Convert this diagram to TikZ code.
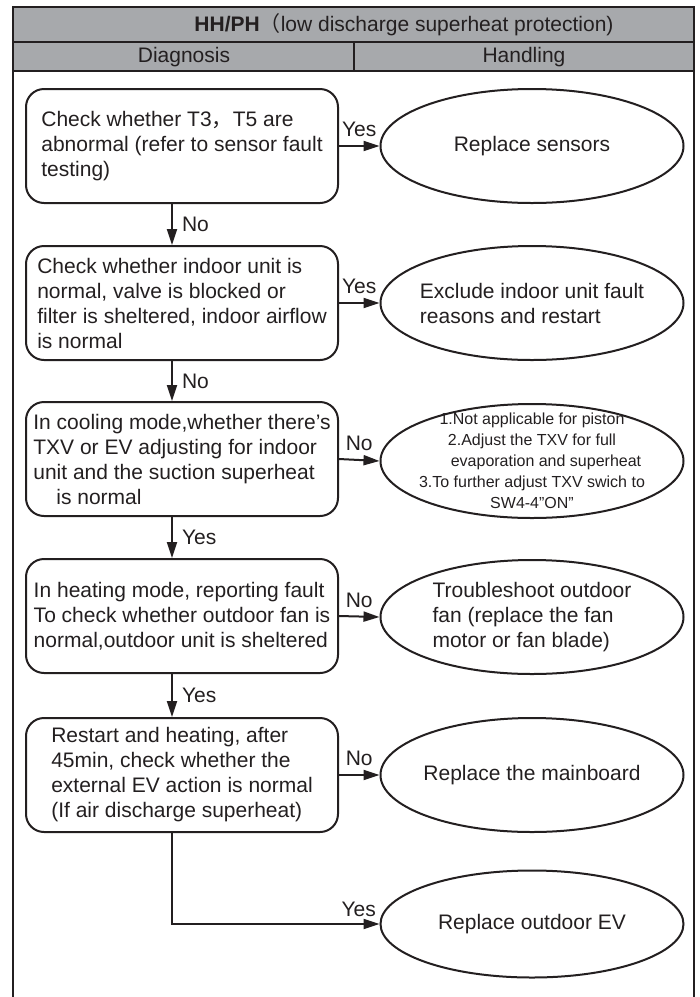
\documentclass[tikz,border=0pt]{standalone}
\usepackage{fontspec}
\setmainfont{Liberation Sans}
\newfontfamily\cjk{Noto Sans CJK SC}
\usepackage{tikz}
\usetikzlibrary{shapes.geometric, arrows.meta, positioning, calc}
\definecolor{hdrgray}{HTML}{A7A9AC}
\definecolor{ink}{HTML}{231F20}

\begin{document}
\begin{tikzpicture}[x=1pt, y=-1pt,
    check/.style={draw=ink, line width=2pt, rounded corners=18pt, minimum width=312pt, minimum height=114pt, align=left, inner sep=0pt, font=\fontsize{21}{25}\selectfont, text=ink},
    handle/.style={draw=ink, ellipse, line width=2pt, minimum width=303pt, minimum height=114pt, inner xsep=-10pt, inner ysep=-16pt, align=left, font=\fontsize{21}{25}\selectfont, text=ink},
    lbl/.style={font=\fontsize{21}{25}\selectfont, text=ink, inner sep=1pt},
    flow/.style={draw=ink, line width=2pt, -{Triangle[length=16pt, width=10pt]}},
]
    \useasboundingbox (0,0) rectangle (700,997);

    % header
    \fill[hdrgray] (13,7) rectangle (694,71);
    \draw[ink, line width=2.5pt] (13,997) -- (13,7) -- (694,7) -- (694,997);
    \draw[ink, line width=2pt] (13,42) -- (694,42) (13,71) -- (694,71) (354,42) -- (354,71);
    \node[lbl] (title) at (404,25) {\textbf{HH/PH}{\cjk （}low discharge superheat protection)};
    \node[lbl] (diag) at (184,57) {Diagnosis};
    \node[lbl] (handl) at (524,57) {Handling};

    % diagnosis steps
    \node[check] (chkT) at (182,146) {Check whether T3{\cjk ，}T5 are\\abnormal (refer to sensor fault\\testing)};
    \node[check] (chkIndoor) at (182,303) {Check whether indoor unit is\\normal, valve is blocked or\\filter is sheltered, indoor airflow\\is normal};
    \node[check] (coolMode) at (182,459) {In cooling mode,whether there's\\TXV or EV adjusting for indoor\\unit and the suction superheat\\\hspace*{23pt}is normal};
    \node[check] (heatMode) at (182,616) {In heating mode, reporting fault\\To check whether outdoor fan is\\normal,outdoor unit is sheltered};
    \node[check] (restart) at (182,775) {Restart and heating, after\\45min, check whether the\\external EV action is normal\\(If air discharge superheat)};

    % handling
    \node[handle] (repSensor) at (532,146) {Replace sensors};
    \node[handle] (exclIndoor) at (532,303) {Exclude indoor unit fault\\reasons and restart};
    \node[handle, align=center, font=\fontsize{16}{21}\selectfont] (txvAdj) at (532,461) {1.Not applicable for piston\\2.Adjust the TXV for full\\\hspace*{28pt}evaporation and superheat\\3.To further adjust TXV swich to\\SW4-4”ON”};
    \node[handle] (fanTrouble) at (532,617) {Troubleshoot outdoor\\fan (replace the fan\\motor or fan blade)};
    \node[handle] (repBoard) at (532,775) {Replace the mainboard};
    \node[handle, minimum height=107pt] (repEV) at (532,924) {Replace outdoor EV};

    \draw[flow] (chkT.east) -- (repSensor.west) node[lbl, midway, above=7pt] {Yes};
    \draw[flow] (chkIndoor.east) -- (exclIndoor.west) node[lbl, midway, above=7pt] {Yes};
    \draw[flow] (coolMode.east) -- (txvAdj.west) node[lbl, midway, above=7pt] {No};
    \draw[flow] (heatMode.east) -- (fanTrouble.west) node[lbl, midway, above=7pt] {No};
    \draw[flow] (restart.east) -- (repBoard.west) node[lbl, midway, above=7pt] {No};

    \draw[flow] ([xshift=-10pt]chkT.south) -- ([xshift=-10pt]chkIndoor.north) node[lbl, midway, right=8pt] {No};
    \draw[flow] ([xshift=-10pt]chkIndoor.south) -- ([xshift=-10pt]coolMode.north) node[lbl, midway, right=8pt] {No};
    \draw[flow] ([xshift=-10pt]coolMode.south) -- ([xshift=-10pt]heatMode.north) node[lbl, midway, right=8pt] {Yes};
    \draw[flow] ([xshift=-10pt]heatMode.south) -- ([xshift=-10pt]restart.north) node[lbl, midway, right=8pt] {Yes};
    \draw[flow] ([xshift=-10pt]restart.south) |- (repEV.west) node[lbl, pos=0.95, above=5pt] {Yes};
\end{tikzpicture}
\end{document}
